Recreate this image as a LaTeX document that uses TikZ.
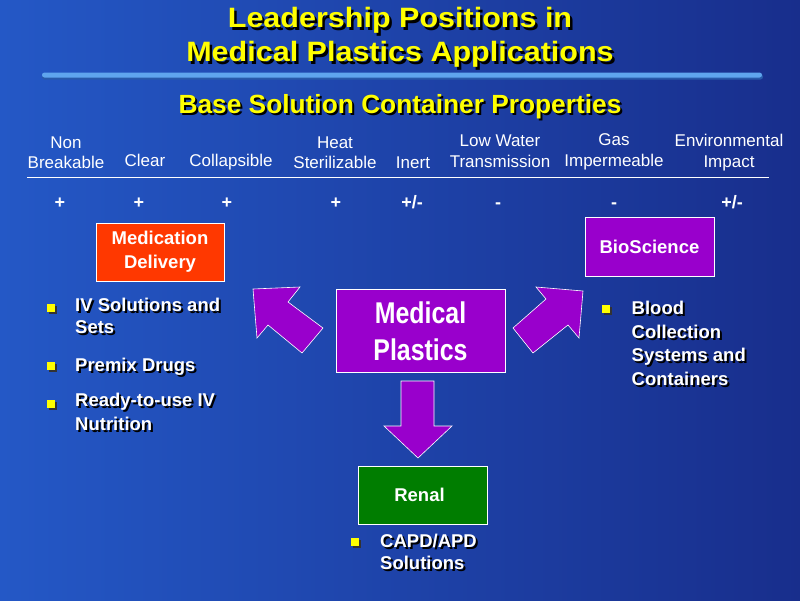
\documentclass[tikz,border=0pt]{standalone}
\usepackage{fontspec}
\setmainfont{Liberation Sans}
\newfontfamily\titlefont[FakeStretch=1.09]{Liberation Sans}
\newfontfamily\narrowfont[FakeStretch=0.83]{Liberation Sans}
\definecolor{bgleft}{RGB}{36,88,198}
\definecolor{bgright}{RGB}{24,46,140}
\definecolor{ttl}{RGB}{255,255,0}
\definecolor{medred}{RGB}{255,56,0}
\definecolor{purp}{RGB}{153,0,204}
\definecolor{grn}{RGB}{0,125,0}
\definecolor{barblue}{RGB}{95,165,238}
\definecolor{bardark}{RGB}{40,90,170}
\newcommand\tline[4]{%
  \node[ttltxt,text=black] (#1s) at (#2+2.5,#3+2.5) {#4};
  \node[ttltxt] (#1) at (#2,#3) {#4};}
\newcommand\bline[4]{%
  \node[bultxt,text=black] (#1s) at (#2+2,#3+2) {#4};
  \node[bultxt] (#1) at (#2,#3) {#4};}
\newcommand\bsq[3]{%
  \fill[black!80] (#2+2,#3+2) rectangle ++(8,8);
  \fill[ttl] (#2,#3) rectangle ++(8,8) coordinate (#1);}
\begin{document}
\begin{tikzpicture}[x=1pt,y=-1pt,
  ttltxt/.style={text=ttl,anchor=base,inner sep=0,font=\titlefont\bfseries\fontsize{28}{32}\selectfont},
  subtxt/.style={text=ttl,anchor=base,inner sep=0,font=\bfseries\fontsize{26.3}{30}\selectfont},
  hdr/.style={text=white,anchor=base,inner sep=0,font=\fontsize{17}{20}\selectfont},
  val/.style={text=white,anchor=base,inner sep=0,font=\bfseries\fontsize{18}{20}\selectfont},
  box/.style={draw=white,line width=0.8pt,text=white,align=center,inner sep=0,
    font=\bfseries\fontsize{18.5}{24}\selectfont},
  bultxt/.style={text=white,anchor=base west,inner sep=0,font=\bfseries\fontsize{18.5}{22}\selectfont},
  blockarrow/.style={fill=purp,draw=white,line width=0.6pt,line join=miter}]
\useasboundingbox (0,0) rectangle (800,600);
\shade[left color=bgleft,right color=bgright] (0,0) rectangle (800,600);
% title
\tline{t1}{400}{27.7}{Leadership Positions in}
\tline{t2}{400}{61.7}{Medical Plastics Applications}
\fill[bardark,rounded corners=2.5pt] (42,74) rectangle (763,79.5);
\fill[barblue,rounded corners=2.5pt] (42,72.5) rectangle (762,77.5);
\node[subtxt,text=black] (subs) at (402,115) {Base Solution Container Properties};
\node[subtxt] (sub) at (400,113) {Base Solution Container Properties};
% headers
\node[hdr] (h1a) at (66,148) {Non};
\node[hdr] (h1b) at (66,168) {Breakable};
\node[hdr] (h2) at (145,166) {Clear};
\node[hdr] (h3) at (231,166) {Collapsible};
\node[hdr] (h4a) at (335,148) {Heat};
\node[hdr] (h4b) at (335,168) {Sterilizable};
\node[hdr] (h5) at (413,168) {Inert};
\node[hdr] (h6a) at (500,146.5) {Low Water};
\node[hdr] (h6b) at (500,167.5) {Transmission};
\node[hdr] (h7a) at (614,145) {Gas};
\node[hdr] (h7b) at (614,166) {Impermeable};
\node[hdr] (h8a) at (729,146.5) {Environmental};
\node[hdr] (h8b) at (729,167.5) {Impact};
\coordinate (ul) at (27,177);
\coordinate (ur) at (769,177);
\draw[white,line width=0.8pt] (ul) -- (ur);
% values
\node[val] (v1) at (60,208) {+};
\node[val] (v2) at (139,208) {+};
\node[val] (v3) at (227,208) {+};
\node[val] (v4) at (336,208) {+};
\node[val] (v5) at (412,208) {+/-};
\node[val] (v6) at (498,208) {-};
\node[val] (v7) at (614,208) {-};
\node[val] (v8) at (732,208) {+/-};
% boxes
\node[box,fill=medred,minimum width=128,minimum height=58] (med) at (160,252) {Medication\\Delivery};
\node[box,fill=purp,minimum width=129,minimum height=59] (bio) at (649.5,246.5) {BioScience};
\node[box,fill=purp,minimum width=169,minimum height=83,font=\narrowfont\bfseries\fontsize{30}{37}\selectfont] (mp) at (420.5,331) {Medical\\Plastics};
\node[box,fill=grn,minimum width=129,minimum height=58] (ren) at (422.5,495) {\hspace*{-6pt}Renal};
% block arrows
\draw[blockarrow] (253,289) -- (300,287) -- (288,302) -- (323,328) -- (302,353) -- (268,325) -- (257,338) -- cycle;
\draw[blockarrow] (583,291) -- (536,287) -- (546,299) -- (513,328) -- (533,353) -- (568,325) -- (579,338) -- cycle;
\draw[blockarrow] (401,381) -- (434,381) -- (434,426) -- (452,426) -- (418,458) -- (384,426) -- (401,426) -- cycle;
% bullets left
\bsq{b1}{47}{304}
\bline{l1a}{75}{311.7}{IV Solutions and}
\bline{l1b}{75}{333.3}{Sets}
\bsq{b2}{47}{362}
\bline{l2}{75}{371.7}{Premix Drugs}
\bsq{b3}{47}{399.5}
\bline{l3a}{75}{406.7}{Ready-to-use IV}
\bline{l3b}{75}{430}{Nutrition}
% bullets right
\bsq{b4}{602}{305}
\bline{r1}{631.5}{314}{Blood}
\bline{r2}{631.5}{338.3}{Collection}
\bline{r3}{631.5}{361.7}{Systems and}
\bline{r4}{631.5}{385.7}{Containers}
% renal bullet
\bsq{b5}{350.5}{538}
\bline{c1}{380}{547.3}{CAPD/APD}
\bline{c2}{380}{569.3}{Solutions}
\end{tikzpicture}
\end{document}
